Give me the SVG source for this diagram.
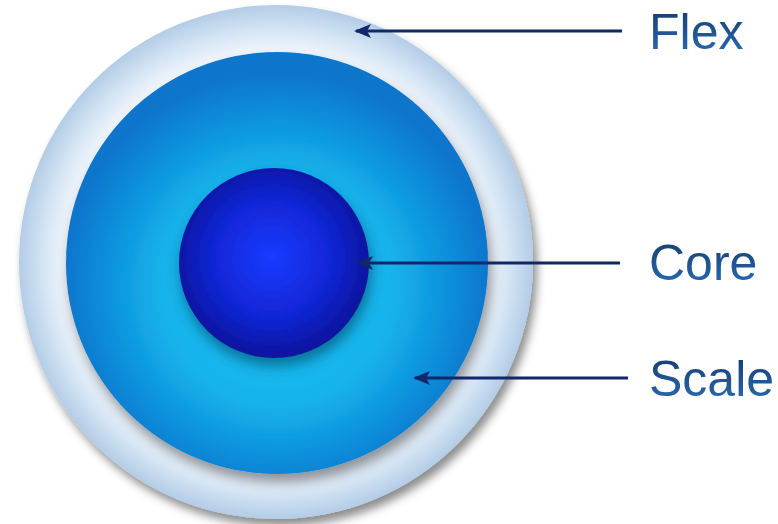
<svg xmlns="http://www.w3.org/2000/svg" width="778" height="524" viewBox="0 0 778 524">
<defs>
<radialGradient id="gOuter" cx="276" cy="262" r="257" gradientUnits="userSpaceOnUse">
<stop offset="0.8" stop-color="#f6f9fd"/>
<stop offset="0.9" stop-color="#d6e6f5"/>
<stop offset="1" stop-color="#b3cde6"/>
</radialGradient>
<radialGradient id="gMid" cx="277" cy="285" r="215" fx="277" fy="290" gradientUnits="userSpaceOnUse">
<stop offset="0" stop-color="#1bc8f6"/>
<stop offset="0.55" stop-color="#15b2ec"/>
<stop offset="1" stop-color="#0874cc"/>
</radialGradient>
<radialGradient id="gCore" cx="272" cy="258" r="97" gradientUnits="userSpaceOnUse">
<stop offset="0" stop-color="#1a3bff"/>
<stop offset="0.6" stop-color="#1126d6"/>
<stop offset="1" stop-color="#0b15a0"/>
</radialGradient>
<linearGradient id="gText" x1="0" y1="0" x2="0" y2="1">
<stop offset="0" stop-color="#17386a"/>
<stop offset="1" stop-color="#2a6fb8"/>
</linearGradient>
<filter id="shOuter" x="-20%" y="-20%" width="140%" height="140%">
<feDropShadow dx="4" dy="7" stdDeviation="5" flood-color="#000" flood-opacity="0.45"/>
</filter>
<filter id="shMid" x="-20%" y="-20%" width="140%" height="140%">
<feDropShadow dx="3" dy="8" stdDeviation="6" flood-color="#000" flood-opacity="0.4"/>
</filter>
<filter id="shCore" x="-30%" y="-30%" width="160%" height="160%">
<feDropShadow dx="2" dy="8" stdDeviation="7" flood-color="#003a5a" flood-opacity="0.6"/>
</filter>
<marker id="arr" markerWidth="18" markerHeight="14" refX="15" refY="7" orient="auto" markerUnits="userSpaceOnUse">
<path d="M17,7 L0,0 L4,7 L0,14 Z" fill="#10286a"/>
</marker>
<style>
.lbl{font-family:"Liberation Sans",Arial,sans-serif;font-size:50px;fill:url(#gText)}
.con{stroke:#10286a;stroke-width:3;fill:none;marker-end:url(#arr)}
</style>
</defs>
<rect width="778" height="524" fill="#fff"/>
<g id="flex"><circle cx="276" cy="262" r="257" fill="url(#gOuter)" filter="url(#shOuter)"/></g>
<g id="scale"><circle cx="277" cy="263" r="211" fill="url(#gMid)" filter="url(#shMid)"/></g>
<g id="core"><circle cx="274" cy="263" r="95" fill="url(#gCore)" filter="url(#shCore)"/></g>
<g id="connectors">
<line class="con" x1="622" y1="31" x2="356" y2="31"/>
<line class="con" x1="620" y1="263" x2="358" y2="263"/>
<line class="con" x1="628" y1="378" x2="415" y2="378"/>
</g>
<g id="labels">
<text class="lbl" x="649" y="49">Flex</text>
<text class="lbl" x="649" y="280">Core</text>
<text class="lbl" x="649" y="396">Scale</text>
</g>
</svg>
